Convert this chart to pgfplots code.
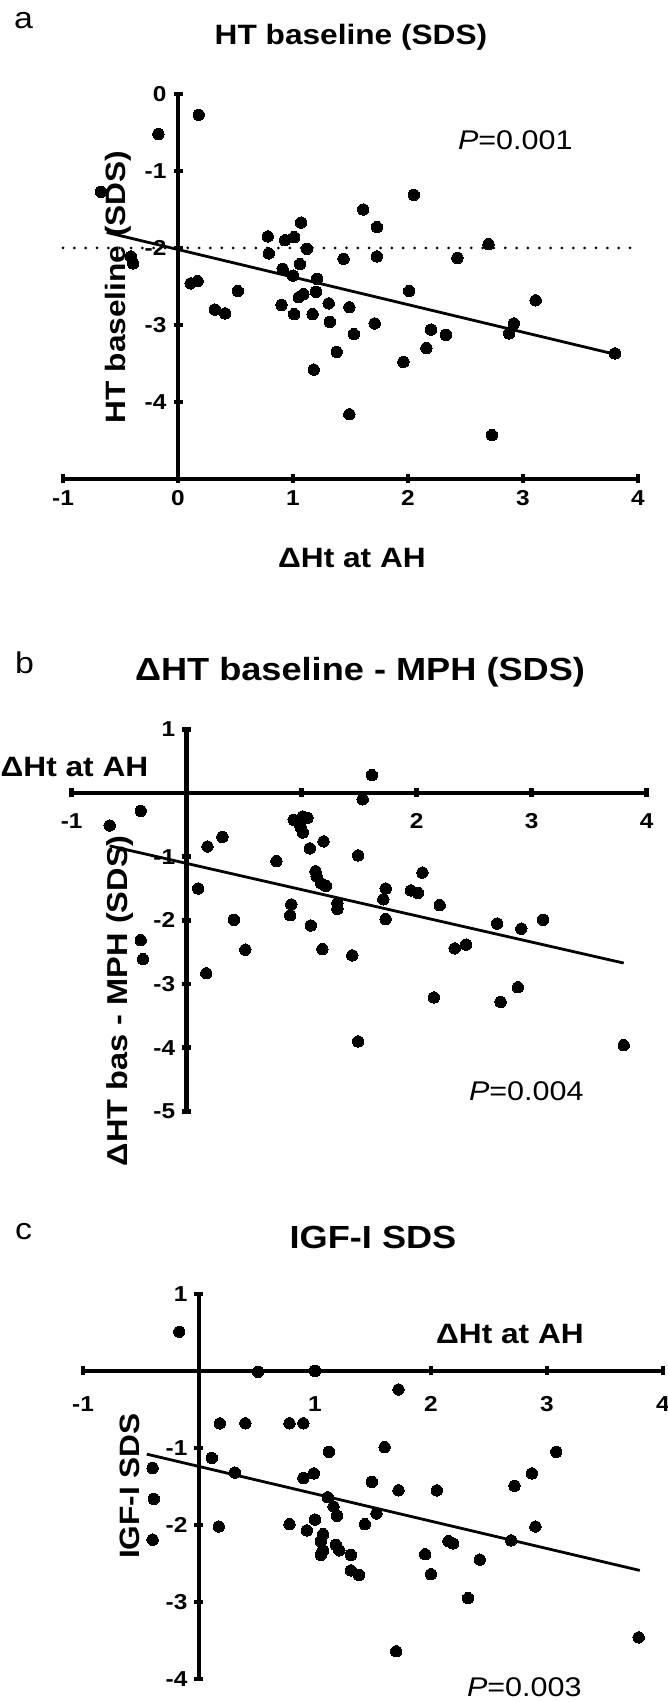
\documentclass[border=0pt]{standalone}
\usepackage{pgfplots}
\pgfplotsset{compat=1.18}
\usepackage{fontspec}
\setmainfont{Liberation Sans}[FakeStretch=1.13]

\pgfplotsset{
  panel/.style={
    scale only axis, clip=false,
    xmin=-1, xmax=4,
    xtick={-1,0,1,2,3,4},
    axis line style={line width=2.3pt, black},
    tick style={line width=2.3pt, black},
    major tick length=4.5pt,
    tick align=outside,
    tick label style={font=\fontsize{10.8pt}{13pt}\selectfont\bfseries},
    /pgf/number format/assume math mode=true,
    hide obscured x ticks=false, hide obscured y ticks=false,
  },
  noarrows/.style={
    every inner x axis line/.append style={-},
    every outer x axis line/.append style={-},
    every inner y axis line/.append style={-},
    every outer y axis line/.append style={-},
    axis line style={-},
  },
  dots/.style={only marks, mark=*, mark size=2.85pt,
    mark options={fill=black, draw=black, line width=0pt}},
  reg/.style={line width=1.4pt, black, no marks},
}

\pgfplotstableread{
x y
-0.67 -1.27
-0.41 -2.11
-0.39 -2.20
-0.17 -0.52
0.18 -0.27
0.11 -2.46
0.17 -2.43
0.32 -2.80
0.41 -2.85
0.52 -2.56
0.78 -1.85
0.79 -2.07
0.91 -2.27
0.93 -1.90
1.01 -1.86
0.90 -2.74
1.00 -2.36
1.01 -2.86
1.07 -1.67
1.12 -2.01
1.06 -2.21
1.05 -2.64
1.09 -2.60
1.21 -2.40
1.20 -2.57
1.17 -2.86
1.18 -3.58
1.31 -2.72
1.32 -2.96
1.38 -3.35
1.44 -2.14
1.49 -2.77
1.53 -3.12
1.49 -4.16
1.61 -1.50
1.73 -1.73
1.73 -2.11
1.71 -2.98
1.96 -3.48
2.01 -2.56
2.05 -1.31
2.16 -3.30
2.20 -3.06
2.33 -3.13
2.43 -2.13
2.70 -1.95
2.73 -4.43
2.88 -3.11
2.92 -2.98
3.11 -2.68
3.80 -3.37
}\dataA

\pgfplotstableread{
x y
-0.67 -0.51
-0.40 -0.28
-0.40 -2.31
-0.38 -2.61
0.10 -1.50
0.18 -0.84
0.17 -2.83
0.31 -0.69
0.41 -1.99
0.51 -2.46
0.78 -1.07
0.91 -1.75
0.90 -1.92
0.93 -0.42
1.01 -0.37
1.05 -0.39
0.99 -0.53
1.01 -0.62
1.07 -0.87
1.08 -2.08
1.12 -1.23
1.13 -1.31
1.17 -1.42
1.21 -1.46
1.19 -0.76
1.18 -2.45
1.31 -1.73
1.31 -1.82
1.44 -2.55
1.49 -0.98
1.53 -0.10
1.61 0.28
1.49 -3.90
1.71 -1.67
1.73 -1.50
1.73 -1.98
1.95 -1.53
2.01 -1.57
2.05 -1.25
2.15 -3.21
2.20 -1.76
2.33 -2.44
2.43 -2.38
2.70 -2.05
2.73 -3.28
2.88 -3.05
2.91 -2.13
3.10 -1.99
3.80 -3.96
}\dataB

\pgfplotstableread{
x y
-0.17 0.51
0.51 -0.01
1.00 0.00
1.72 -0.24
0.18 -0.68
0.40 -0.68
0.78 -0.68
0.90 -0.68
0.11 -1.13
0.31 -1.32
-0.40 -1.26
-0.39 -1.66
-0.40 -2.19
0.17 -2.02
1.12 -1.05
0.90 -1.39
0.99 -1.33
1.11 -1.64
1.16 -1.76
1.19 -1.88
0.78 -1.99
1.00 -1.93
0.93 -2.07
1.07 -2.12
1.05 -2.21
1.07 -2.33
1.05 -2.39
1.18 -2.26
1.21 -2.33
1.31 -2.39
1.31 -2.59
1.38 -2.65
1.43 -1.99
1.53 -1.85
1.49 -1.44
1.60 -0.99
1.72 -1.55
1.70 -3.64
1.95 -2.38
2.00 -2.64
2.05 -1.55
2.15 -2.21
2.19 -2.24
2.32 -2.95
2.42 -2.45
2.69 -2.20
2.72 -1.49
2.87 -1.33
2.90 -2.02
3.08 -1.05
3.79 -3.46
}\dataC

\begin{document}
\begin{tikzpicture}
\path[use as bounding box] (0pt,0pt) rectangle (334pt,851pt);

% ---------------- panel a ----------------
\begin{axis}[panel,
  at={(31.5pt,804pt)}, anchor=north west,
  width=287.5pt, height=192.5pt,
  ymin=-5, ymax=0,
  axis x line=bottom, axis y line=middle,
  ytick={0,-1,-2,-3,-4},
  yticklabels={0,-1,-2,-3,-4},
  xticklabels={-1,0,1,2,3,4},
  noarrows,
]
\addplot[line width=1.5pt, black, dash pattern=on 0pt off 5.67pt, line cap=round] coordinates {(-1,-2) (4,-2)};
\addplot[reg] coordinates {(-0.62,-1.798) (3.80,-3.38)};
\addplot[dots] table {\dataA};
\end{axis}

% ---------------- panel b ----------------
\begin{axis}[panel,
  at={(35.85pt,486.35pt)}, anchor=north west,
  width=287.5pt, height=191.1pt,
  ymin=-5, ymax=1,
  axis lines=middle,
  ytick={1,0,-1,-2,-3,-4,-5},
  yticklabels={1,,-1,-2,-3,-4,-5},
  xticklabels={-1,,,2,3,4},
  xticklabel style={yshift=-4.5pt},
  noarrows,
]
\addplot[reg] coordinates {(-0.67,-0.83) (3.80,-2.67)};
\addplot[dots] table {\dataB};
\end{axis}

% ---------------- panel c ----------------
\begin{axis}[panel,
  at={(41.5pt,204pt)}, anchor=north west,
  width=290pt, height=192.5pt,
  ymin=-4, ymax=1,
  axis lines=middle,
  ytick={1,0,-1,-2,-3,-4},
  yticklabels={1,,-1,-2,-3,-4},
  xticklabels={-1,,1,2,3,4},
  xticklabel style={yshift=-7pt},
  noarrows,
]
\addplot[reg] coordinates {(-0.45,-1.08) (3.80,-2.59)};
\addplot[dots] table {\dataC};
\end{axis}

% ---------------- texts ----------------
\begin{scope}[every node/.style={inner sep=0pt, outer sep=0pt}]
\node[anchor=base west, font=\fontsize{15pt}{18pt}\selectfont] at (7pt,836.85pt) {a};
\node[anchor=base west, font=\fontsize{15pt}{18pt}\selectfont] at (7.5pt,514.15pt) {b};
\node[anchor=base west, font=\fontsize{15pt}{18pt}\selectfont] at (7.5pt,231.25pt) {c};

\node[anchor=base, font=\fontsize{14pt}{17pt}\selectfont\bfseries] at (175.5pt,828.5pt) {HT baseline (SDS)};
\node[anchor=base, font=\fontsize{16pt}{19pt}\selectfont\bfseries] at (180pt,510.5pt) {ΔHT baseline - MPH (SDS)};
\node[anchor=base, font=\fontsize{16pt}{19pt}\selectfont\bfseries] at (186.5pt,226.7pt) {IGF-I SDS};

\node[anchor=base, font=\fontsize{14pt}{17pt}\selectfont\bfseries] at (176pt,567.3pt) {ΔHt at AH};
\node[anchor=base west, font=\fontsize{14pt}{17pt}\selectfont\bfseries] at (0.35pt,462.5pt) {ΔHt at AH};
\node[anchor=base, font=\fontsize{14pt}{17pt}\selectfont\bfseries] at (255pt,179.25pt) {ΔHt at AH};

\node[rotate=90, anchor=base, font=\fontsize{14pt}{17pt}\selectfont\bfseries] at (62.5pt,707.5pt) {HT baseline (SDS)};
\node[rotate=90, anchor=base, font=\fontsize{14.4pt}{17pt}\selectfont\bfseries] at (63.65pt,350.65pt) {ΔHT bas - MPH (SDS)};
\node[rotate=90, anchor=base, font=\fontsize{14pt}{17pt}\selectfont\bfseries] at (69.75pt,108pt) {IGF-I SDS};

\node[anchor=base west, font=\fontsize{13.5pt}{16pt}\selectfont] at (229pt,776pt) {\textit{P}=0.001};
\node[anchor=base west, font=\fontsize{13.5pt}{16pt}\selectfont] at (234.5pt,300.5pt) {\textit{P}=0.004};
\node[anchor=base west, font=\fontsize{13.5pt}{16pt}\selectfont] at (233.5pt,2.5pt) {\textit{P}=0.003};
\end{scope}
\end{tikzpicture}
\end{document}
